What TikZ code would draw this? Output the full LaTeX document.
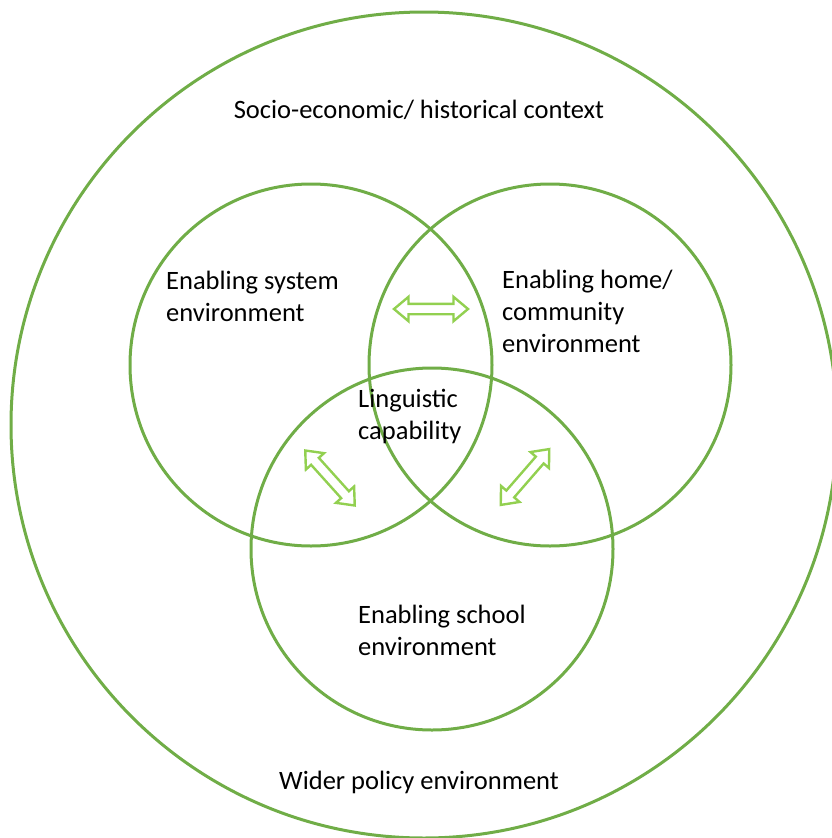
\documentclass[tikz,border=0pt]{standalone}
\usepackage{fontspec}
\setmainfont{Carlito}
\usetikzlibrary{shapes.arrows}
\definecolor{ringgreen}{HTML}{70AD47}
\definecolor{arrowgreen}{HTML}{92D050}

\begin{document}
\begin{tikzpicture}[x=1pt, y=-1pt,
  ring/.style={circle, draw=ringgreen, line width=3pt, inner sep=0pt},
  dblarrow/.style={double arrow, draw=arrowgreen, line width=2.4pt, inner ysep=4pt,
    text height=0pt, text depth=0pt, double arrow head extend=7pt,
    double arrow tip angle=80, minimum height=74pt},
  lbl/.style={font=\fontsize{26.5}{32}\selectfont, align=left, inner sep=0pt}]

\useasboundingbox (0,0) rectangle (832,838);

% rings
\node[ring, minimum size=826pt] (context) at (424,425) {};
\node[ring, minimum size=362pt] (system) at (311,365) {};
\node[ring, minimum size=362pt] (home) at (550,365) {};
\node[ring, minimum size=362pt] (school) at (432,549) {};

% labels
\node[lbl] (contextlbl) at (419,110) {Socio-economic/ historical context};
\node[lbl] (policylbl) at (419,782) {Wider policy environment};
\node[lbl, anchor=west] (systemlbl) at (166,296) {Enabling system\\environment};
\node[lbl, anchor=west] (homelbl) at (502,311) {Enabling home/\\community\\environment};
\node[lbl, anchor=west] (linglbl) at (358,416) {Linguistic\\capability};
\node[lbl, anchor=west] (schoollbl) at (358,630) {Enabling school\\environment};

% arrows
\node[dblarrow] (syshome) at (431,309) {};
\node[dblarrow, rotate=-48] (sysschool) at (330,478) {};
\node[dblarrow, rotate=49] (homeschool) at (525,477) {};

\end{tikzpicture}
\end{document}
